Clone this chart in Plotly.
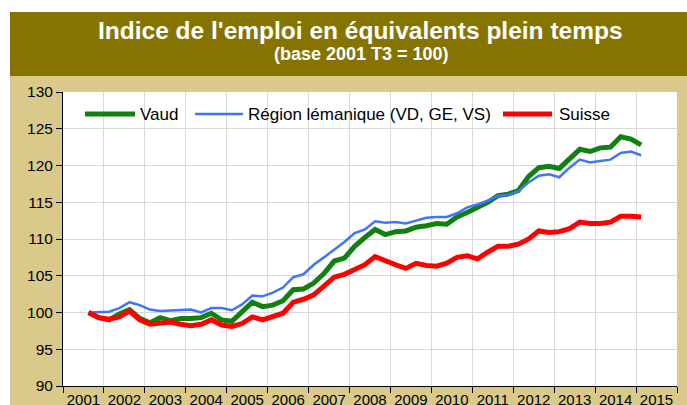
import plotly.graph_objects as go

# ---- data ----
start_year, start_q = 2001, 3
n_points = 55
periods = []
y, q = start_year, start_q
for _ in range(n_points):
    periods.append((y, q))
    q += 1
    if q > 4:
        q = 1
        y += 1

series_names = ["Vaud", "Région lémanique (VD, GE, VS)", "Suisse"]
vaud = [100.0, 99.3, 99.0, 99.8, 100.4, 99.2, 98.6, 99.3, 98.9, 99.2,
        99.2, 99.3, 99.9, 99.0, 98.8, 100.1, 101.4, 100.8, 101.0, 101.6,
        103.1, 103.2, 104.0, 105.3, 107.0, 107.4, 109.0, 110.2, 111.3, 110.6,
        111.0, 111.1, 111.6, 111.8, 112.1, 112.0, 113.0, 113.6, 114.3, 115.0,
        115.9, 116.1, 116.6, 118.5, 119.7, 119.9, 119.6, 121.0, 122.2, 121.9,
        122.4, 122.5, 123.9, 123.6, 122.8]
region = [100.0, 100.0, 100.1, 100.6, 101.4, 101.0, 100.4, 100.2, 100.3, 100.3,
          100.4, 100.0, 100.6, 100.6, 100.3, 101.1, 102.3, 102.2, 102.7, 103.4,
          104.8, 105.2, 106.5, 107.5, 108.5, 109.6, 110.8, 111.3, 112.4, 112.2,
          112.3, 112.1, 112.5, 112.9, 113.0, 113.0, 113.5, 114.3, 114.7, 115.2,
          115.9, 116.0, 116.5, 117.7, 118.6, 118.8, 118.4, 119.7, 120.8, 120.4,
          120.6, 120.8, 121.7, 121.9, 121.4]
suisse = [100.0, 99.3, 99.1, 99.4, 100.2, 99.0, 98.4, 98.5, 98.7, 98.4,
          98.2, 98.4, 99.0, 98.3, 98.1, 98.5, 99.4, 99.0, 99.4, 99.9,
          101.4, 101.8, 102.4, 103.5, 104.8, 105.2, 105.8, 106.5, 107.6, 107.0,
          106.5, 106.0, 106.7, 106.4, 106.3, 106.7, 107.5, 107.7, 107.3, 108.2,
          109.0, 109.0, 109.3, 110.0, 111.1, 110.9, 111.0, 111.4, 112.3, 112.1,
          112.1, 112.3, 113.1, 113.1, 113.0]
year_labels = [str(v) for v in range(2001, 2016)]

x = [yy + (qq - 0.5) / 4 for yy, qq in periods]

# ---- layout helpers ----
W, H = 687, 405
ML, MR, MT, MB = 63, 10, 92, 19
PW, PH = W - ML - MR, H - MT - MB


def px(xp):
    return (xp - ML) / PW


def py(yp):
    return (H - MB - yp) / PH


FONT = "Liberation Sans, Arial, sans-serif"
TAN = "#D9CA8B"
OLIVE = "#857500"
colors = ["#118011", "#3F74FF", "#FF0000"]
widths = [5, 2.5, 5]

fig = go.Figure()
for name, vals, c, w in zip(series_names, [vaud, region, suisse], colors, widths):
    fig.add_trace(go.Scatter(x=x, y=vals, name=name, mode="lines",
                             line=dict(color=c, width=w), showlegend=False))

shapes = [
    dict(type="rect", xref="paper", yref="paper", x0=px(0), x1=px(W), y0=py(0), y1=py(12),
         fillcolor="white", line=dict(width=0), layer="below"),
    dict(type="rect", xref="paper", yref="paper", x0=px(0), x1=px(10), y0=py(0), y1=py(H),
         fillcolor="white", line=dict(width=0), layer="below"),
    dict(type="rect", xref="paper", yref="paper", x0=px(10), x1=px(W), y0=py(12), y1=py(76),
         fillcolor=OLIVE, line=dict(width=0), layer="below"),
]

annotations = [
    dict(text="<b>Indice de l'emploi en équivalents plein temps</b>", xref="paper", yref="paper",
         x=px(360), y=py(30), xanchor="center", yanchor="middle", showarrow=False,
         font=dict(family=FONT, size=24.5, color="white")),
    dict(text="<b>(base 2001 T3 = 100)</b>", xref="paper", yref="paper",
         x=px(361), y=py(54), xanchor="center", yanchor="middle", showarrow=False,
         font=dict(family=FONT, size=18, color="white")),
]

# legend drawn as samples + labels
legend_pos = [(85, 135, 138), (195, 243, 246), (503, 552, 557)]
LEG_Y = 114
for name, c, w, (s0, s1, tx) in zip(series_names, colors, widths, legend_pos):
    shapes.append(dict(type="line", xref="paper", yref="paper", x0=px(s0), x1=px(s1),
                       y0=py(LEG_Y), y1=py(LEG_Y), line=dict(color=c, width=w)))
    annotations.append(dict(text=name, xref="paper", yref="paper", x=px(tx), y=py(LEG_Y),
                            xanchor="left", yanchor="middle", showarrow=False,
                            font=dict(family=FONT, size=17, color="black")))

fig.update_layout(
    width=W, height=H,
    margin=dict(l=ML, r=MR, t=MT, b=MB, pad=0),
    paper_bgcolor=TAN, plot_bgcolor="white",
    font=dict(family=FONT, size=15, color="black"),
    shapes=shapes, annotations=annotations,
    showlegend=False,
    xaxis=dict(range=[2001, 2016], tickmode="array", automargin=False,
               tickvals=[int(v) + 0.5 for v in year_labels], ticktext=year_labels,
               ticks="", showgrid=False, showline=True, linecolor="black", linewidth=1,
               tickfont=dict(family=FONT, size=15, color="black"), zeroline=False,
               minor=dict(tick0=2001, dtick=1, ticks="outside", ticklen=6,
                          tickcolor="black", showgrid=True, gridcolor="#D9D9D9",
                          gridwidth=1)),
    yaxis=dict(range=[90, 130], dtick=5, tick0=90, showgrid=True, gridcolor="#D9D9D9",
               gridwidth=1, showline=True, linecolor="black", linewidth=1, automargin=False,
               ticks="outside", ticklen=6, tickcolor="black", zeroline=False,
               tickfont=dict(family=FONT, size=15.5, color="black")),
)

fig.write_html("out.html", config={"displayModeBar": False},
               post_script="document.body.style.margin='0px';")
